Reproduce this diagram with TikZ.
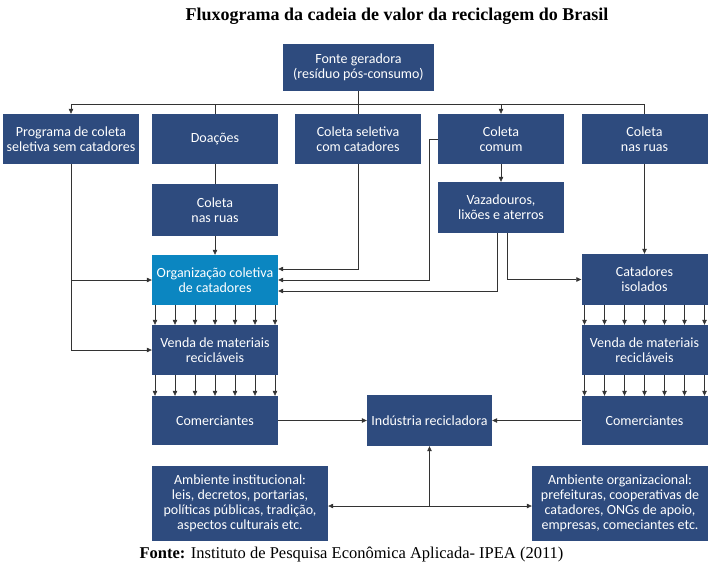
\documentclass[tikz,border=0pt]{standalone}
\usepackage{fontspec}
\setmainfont{Liberation Serif}
\newfontfamily\caixafont{Carlito}
\usetikzlibrary{arrows.meta,positioning,calc}
\definecolor{boxblue}{HTML}{2E4B7E}
\definecolor{orgblue}{HTML}{0B86C1}
\definecolor{linedark}{HTML}{333333}
\tikzset{
  caixa/.style={fill=boxblue, text=white, align=center, inner sep=2pt,
    minimum width=126pt, minimum height=50pt,
    font=\caixafont\fontsize{14}{15}\selectfont},
  caixaorg/.style={caixa, fill=orgblue},
  linha/.style={line width=0.6pt, color=linedark},
  seta/.style={linha, -{Stealth[length=5pt, width=4.5pt, inset=0pt]}},
  setadupla/.style={linha, {Stealth[length=5pt, width=4.5pt, inset=0pt]}-{Stealth[length=5pt, width=4.5pt, inset=0pt]}},
  titulo/.style={font=\bfseries\fontsize{18}{20}\selectfont},
  fonte/.style={font=\fontsize{16.5}{18}\selectfont},
}

\begin{document}
\begin{tikzpicture}[x=1pt,y=-1pt]
  \useasboundingbox (0,0) rectangle (722,578);
  \node[titulo] (tit) at (397,16) {Fluxograma da cadeia de valor da reciclagem do Brasil};

  % fonte e primeira linha
  \node[caixa, minimum width=151pt, minimum height=47pt] (fonteger) at (358.5,67.5) {Fonte geradora\\(resíduo pós-consumo)};
  \node[caixa, minimum width=136pt] (programa) at (71,139) {Programa de coleta\\seletiva sem catadores};
  \node[caixa] (doacoes) at (215,139) {Doações};
  \node[caixa] (seletiva) at (358,139) {Coleta seletiva\\com catadores};
  \node[caixa] (comum) at (501,139) {Coleta\\comum};
  \node[caixa] (ruasdir) at (644.5,139) {Coleta\\nas ruas};

  % segunda linha
  \node[caixa, minimum height=52pt] (ruasesq) at (215,210) {Coleta\\nas ruas};
  \node[caixa, minimum height=51pt] (vaza) at (501,207.5) {Vazadouros,\\lixões e aterros};

  % catadores
  \node[caixaorg] (org) at (215,280) {Organização coletiva\\de catadores};
  \node[caixa, minimum height=51pt] (isolados) at (644.5,279.5) {Catadores\\isolados};
  \node[caixa] (vendaesq) at (215,350) {Venda de materiais\\recicláveis};
  \node[caixa] (vendadir) at (644.5,350) {Venda de materiais\\recicláveis};
  \node[caixa, minimum height=49pt] (comesq) at (215,420.5) {Comerciantes};
  \node[caixa, minimum height=49pt] (comdir) at (644.5,420.5) {Comerciantes};
  \node[caixa, minimum width=125pt, minimum height=51pt] (industria) at (429.5,420.5) {Indústria recicladora};

  % ambientes
  \node[caixa, minimum width=176pt, minimum height=75pt] (institucional) at (240,503.5)
    {Ambiente institucional:\\leis, decretos, portarias,\\políticas públicas, tradição,\\aspectos culturais etc.};
  \node[caixa, minimum width=176pt, minimum height=75pt] (organizacional) at (620,503.5)
    {Ambiente organizacional:\\prefeituras, cooperativas de\\catadores, ONGs de apoio,\\empresas, comeciantes etc.};

  \node[fonte] (rodape) at (351.5,555) {\textbf{Fonte:} Instituto de Pesquisa Econômica Aplicada- IPEA (2011)};

  % barramento superior
  \coordinate (barra) at (0,104.5);
  \draw[linha] (fonteger.south) -- (fonteger.south |- barra);
  \draw[linha] (programa.north |- barra) -- (ruasdir.north |- barra);
  \draw[seta] (programa.north |- barra) -- (programa.north);
  \draw[linha] (doacoes.north |- barra) -- (doacoes.north);
  \draw[linha] (seletiva.north |- barra) -- (seletiva.north);
  \draw[seta] (comum.north |- barra) -- (comum.north);
  \draw[linha] (ruasdir.north |- barra) -- (ruasdir.north);

  % entradas da organizacao
  \draw[seta] (programa.south) |- (vendaesq.west);
  \draw[seta] (programa.south |- org.west) -- (org.west);
  \draw[linha] (doacoes.south) -- (ruasesq.north);
  \draw[seta] (ruasesq.south) -- (org.north);
  \draw[seta] (seletiva.south) |- ([yshift=11pt]org.east);
  \draw[seta] (comum.west) -- ++(-9,0) |- (org.east);
  \draw[seta] (comum.south) -- (vaza.north);
  \draw[seta] ([xshift=-4pt]vaza.south) |- ([yshift=-11pt]org.east);
  \draw[seta] ([xshift=6pt]vaza.south) |- (isolados.west);
  \draw[seta] (ruasdir.south) -- (isolados.north);

  % setas multiplas
  \foreach \dx in {-60,-40,-20,0,20,40,60} {
    \draw[seta] ([xshift=\dx pt]org.south) -- ([xshift=\dx pt]vendaesq.north);
    \draw[seta] ([xshift=\dx pt]vendaesq.south) -- ([xshift=\dx pt]comesq.north);
    \draw[seta] ([xshift=\dx pt]isolados.south) -- ([xshift=\dx pt]vendadir.north);
    \draw[seta] ([xshift=\dx pt]vendadir.south) -- ([xshift=\dx pt]comdir.north);
  }

  % industria
  \draw[seta] (comesq.east) -- (industria.west);
  \draw[seta] (comdir.west) -- (industria.east);
  \draw[setadupla] ([yshift=-2.5pt]institucional.east) -- ([yshift=-2.5pt]organizacional.west);
  \draw[seta] ([yshift=-2.5pt]institucional.east -| industria.south) -- (industria.south);
\end{tikzpicture}
\end{document}
